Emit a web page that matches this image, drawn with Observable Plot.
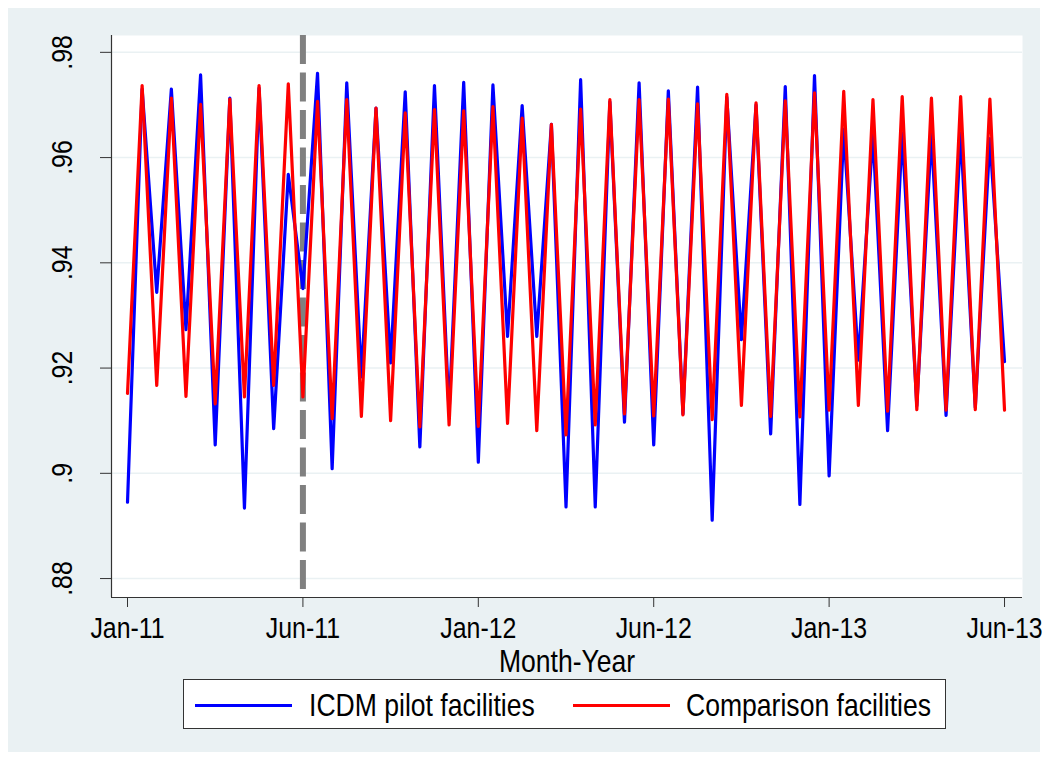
<!DOCTYPE html>
<html>
<head>
<meta charset="utf-8">
<script src="https://cdn.jsdelivr.net/npm/d3@7"></script>
<script src="https://cdn.jsdelivr.net/npm/@observablehq/plot@0.6"></script>
<style>
  html, body { margin: 0; padding: 0; background: #ffffff; }
  #wrap { position: absolute; left: 8px; top: 8px; width: 1032px; height: 744px; background: #eaf1f3; }
  #chart { position: absolute; left: 0; top: 0; }
  #chart svg { overflow: visible; }
  #legend { position: absolute; left: 175px; top: 671px; width: 761px; height: 48px; background: #fff; border: 1px solid #333; }
  .sw { position: absolute; top: 24px; height: 3px; width: 97px; }
  .lt { position: absolute; top: 0; color: #000; white-space: nowrap; font-family: 'Liberation Sans', Arial, sans-serif;
        font-size: 32px; line-height: 50px; transform: scaleX(0.83); transform-origin: 0 50%; }
</style>
</head>
<body>
<div id="wrap">
  <div id="chart"></div>
  <div id="legend">
    <div class="sw" style="left:11px;background:#0000ff"></div>
    <div class="lt" style="left:125px">ICDM pilot facilities</div>
    <div class="sw" style="left:389px;background:#ff0000"></div>
    <div class="lt" style="left:502px">Comparison facilities</div>
  </div>
</div>
<script>
// ---- data ----
const seriesNames = ["ICDM pilot facilities", "Comparison facilities"];
const icdm = [0.8945,0.9730,0.9344,0.9730,0.9273,0.9757,0.9054,0.9713,0.8934,0.9732,
  0.9085,0.9568,0.9351,0.9760,0.9009,0.9742,0.9183,0.9694,0.9210,0.9725,
  0.9050,0.9737,0.9115,0.9743,0.9021,0.9738,0.9260,0.9699,0.9260,0.9663,
  0.8936,0.9748,0.8936,0.9706,0.9097,0.9742,0.9054,0.9727,0.9113,0.9734,
  0.8911,0.9715,0.9254,0.9700,0.9075,0.9735,0.8941,0.9756,0.8995,0.9654,
  0.9215,0.9645,0.9081,0.9647,0.9128,0.9645,0.9110,0.9647,0.9125,0.9636,0.9212];
const comparison = [0.9152,0.9737,0.9167,0.9713,0.9146,0.9701,0.9132,0.9711,0.9145,0.9737,
  0.9167,0.9740,0.9145,0.9707,0.9104,0.9710,0.9108,0.9694,0.9100,0.9685,
  0.9088,0.9691,0.9092,0.9689,0.9089,0.9697,0.9095,0.9675,0.9081,0.9663,
  0.9073,0.9692,0.9092,0.9710,0.9113,0.9710,0.9109,0.9711,0.9111,0.9702,
  0.9102,0.9720,0.9129,0.9704,0.9108,0.9708,0.9107,0.9723,0.9120,0.9726,
  0.9129,0.9710,0.9118,0.9716,0.9121,0.9713,0.9120,0.9716,0.9121,0.9711,0.9120];
const xTicks = [0, 12, 24, 36, 48, 60];
const xTickLabels = ["Jan-11", "Jun-11", "Jan-12", "Jun-12", "Jan-13", "Jun-13"];
const yTicks = [0.98, 0.96, 0.94, 0.92, 0.90, 0.88];
const yTickLabels = [".98", ".96", ".94", ".92", ".9", ".88"];
const interventionAt = 12;
const xTitle = "Month-Year";

const fam = "'Liberation Sans', Arial, sans-serif";
const tickFs = 30;
const titleFs = 32;
const squeeze = 0.83;

const rows = [];
icdm.forEach((v, i) => rows.push({i, v, s: seriesNames[0]}));
comparison.forEach((v, i) => rows.push({i, v, s: seriesNames[1]}));

const xDom = [-1.095, 61.23];
const yDom = [0.8764, 0.9832];

const chart = Plot.plot({
  width: 1032,
  height: 668,
  marginLeft: 103,
  marginRight: 18,
  marginTop: 27,
  marginBottom: 79,
  style: {background: "transparent", fontFamily: fam, color: "#000", overflow: "visible"},
  x: {domain: xDom},
  y: {domain: yDom},
  marks: [
    Plot.frame({fill: "#ffffff", stroke: null}),
    Plot.gridY(yTicks, {stroke: "#eaf1f3", strokeOpacity: 1, strokeWidth: 1.5}),
    Plot.ruleX([interventionAt], {stroke: "#808080", strokeWidth: 6, strokeDasharray: "29,8.5"}),
    Plot.line(rows.filter(d => d.s === seriesNames[0]), {x: "i", y: "v", stroke: "#0000ff", strokeWidth: 3.2}),
    Plot.line(rows.filter(d => d.s === seriesNames[1]), {x: "i", y: "v", stroke: "#ff0000", strokeWidth: 3.2}),
    Plot.ruleX([xDom[0]], {stroke: "#333", strokeWidth: 1.2}),
    Plot.ruleY([yDom[0]], {stroke: "#333", strokeWidth: 1.2}),
    Plot.axisY(yTicks, {tickSize: 11, tickFormat: () => "", stroke: "#333", label: null}),
    Plot.axisX(xTicks, {tickSize: 10, tickFormat: () => "", stroke: "#333", label: null}),
    Plot.text(yTicks, {y: d => d, text: (d, k) => yTickLabels[k], frameAnchor: "left", dx: -49, rotate: -90,
      textAnchor: "middle", lineAnchor: "middle", fontSize: tickFs, fill: "#000"}),
    Plot.text(xTicks, {x: d => d, text: (d, k) => xTickLabels[k], frameAnchor: "bottom", dy: 31,
      textAnchor: "middle", lineAnchor: "middle", fontSize: tickFs, fill: "#000"}),
    Plot.text([xTitle], {text: d => d, frameAnchor: "bottom", dy: 64, lineAnchor: "middle",
      fontSize: titleFs, fill: "#000"})
  ]
});
// condense the label glyphs horizontally (along the reading direction), like the reference's narrow face
d3.select(chart).selectAll("text").each(function() {
  if (!this.textContent) return;
  const t = this.getAttribute("transform") || "";
  this.setAttribute("transform", t + ` scale(${squeeze},1)`);
});
document.getElementById("chart").appendChild(chart);
</script>
</body>
</html>
